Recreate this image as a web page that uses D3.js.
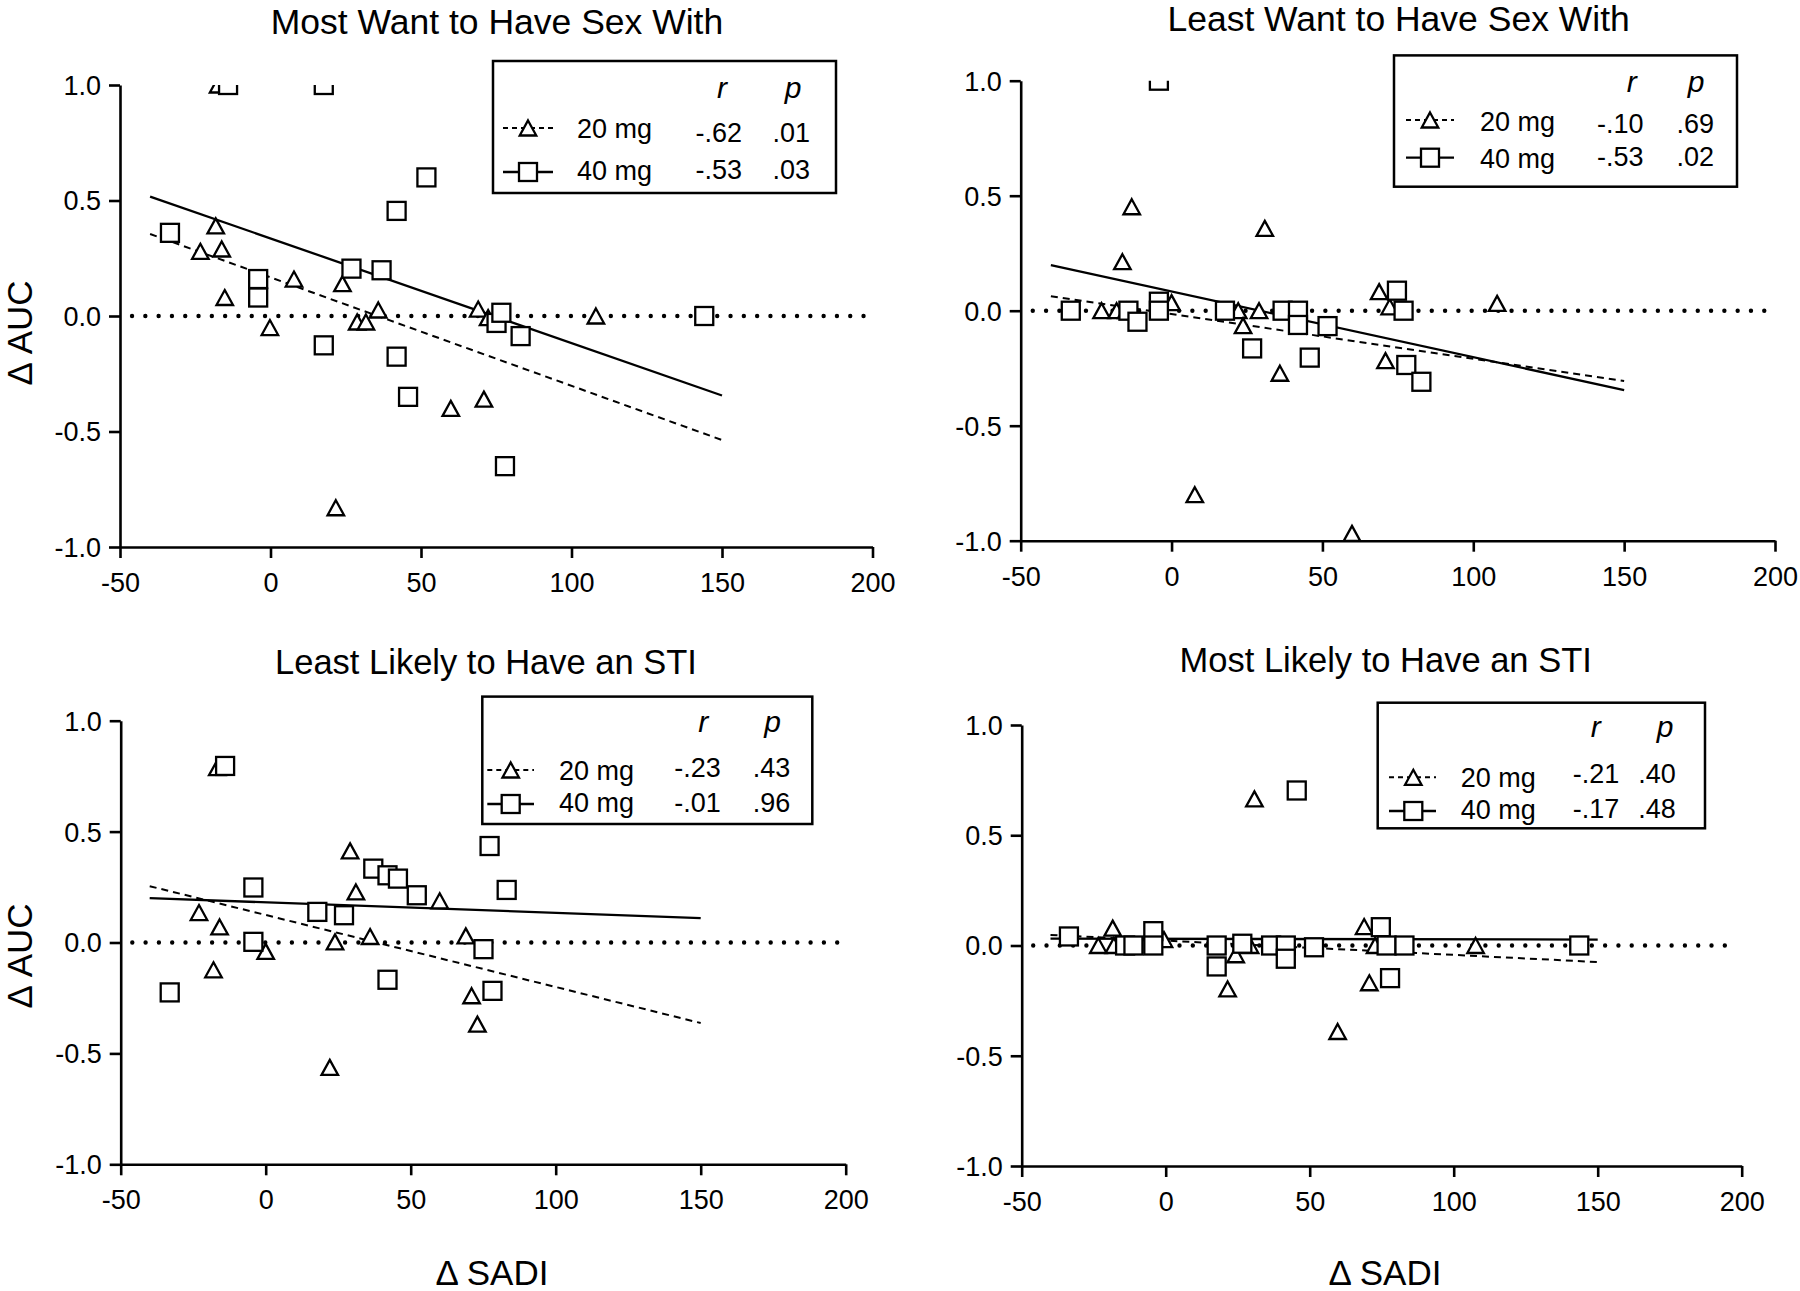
<!DOCTYPE html>
<html><head><meta charset="utf-8">
<script src="https://cdn.jsdelivr.net/npm/d3@7"></script>
<style>
body{margin:0;background:#fff}
svg{display:block;background:#fff}
text{font-family:"Liberation Sans",Arial,Helvetica,sans-serif;fill:#000}
</style>
</head><body>
<svg id="chart" width="1800" height="1291"></svg>
<script>
// ---------------- DATA ----------------
const panelTitles = ["Most Want to Have Sex With","Least Want to Have Sex With","Least Likely to Have an STI","Most Likely to Have an STI"];
const doseLabels = ["20 mg","40 mg"];
const xTicks = [-50,0,50,100,150,200];
const yTicks = [-1,-0.5,0,0.5,1];
const zeroLineRange = [-46,198];
const xAxisLabel = "\u0394 SADI";
const yAxisLabel = "\u0394 AUC";

// Panel 1: Most Want to Have Sex With
const mostSex_x20 = [-23.3,-18.2,-17.4,-16.2,-15.2,-0.2,7.8,21.7,23.9,28.8,31.7,35.8,59.9,69.0,70.9,72.3,108.1];
const mostSex_y20 = [0.28,0.39,1.0,0.29,0.08,-0.05,0.16,-0.83,0.14,-0.026,-0.026,0.026,-0.40,0.03,-0.36,-0.007,0.0];
const mostSex_x40 = [-33.4,-14.1,-4.1,-4.1,17.7,17.7,26.9,36.9,41.9,41.9,45.7,51.8,75.1,76.7,77.9,83.1,144.1];
const mostSex_y40 = [0.36,1.0,0.16,0.08,-0.127,1.0,0.205,0.198,0.455,-0.176,-0.35,0.60,-0.03,0.014,-0.65,-0.087,0.0];
const mostSex_fit20 = [[-40,0.355],[150,-0.537]];
const mostSex_fit40 = [[-40,0.517],[150,-0.344]];
const mostSex_stats = [["-.62",".01"],["-.53",".03"]];

// Panel 2: Least Want to Have Sex With
const leastSex_x20 = [-23.2,-18.2,-16.3,-15.0,-13.2,0,7.7,22.1,23.7,29.0,30.9,35.9,59.8,68.8,70.9,72.3,107.9];
const leastSex_y20 = [0,0,0.213,0,0.452,0.035,-0.80,0,-0.065,0,0.358,-0.272,-0.968,0.083,-0.217,0.017,0.032];
const leastSex_x40 = [-33.4,-14.3,-11.3,-4.2,-4.2,-4.2,17.7,26.7,36.8,41.9,41.9,45.8,51.7,74.7,76.9,77.8,82.8];
const leastSex_y40 = [0,0,-0.048,0.039,0,1.0,0,-0.164,0,0,-0.062,-0.204,-0.067,0.087,0,-0.236,-0.309];
const leastSex_fit20 = [[-40,0.063],[150,-0.306]];
const leastSex_fit40 = [[-40,0.198],[150,-0.345]];
const leastSex_stats = [["-.10",".69"],["-.53",".02"]];

// Panel 3: Least Likely to Have an STI
const leastSti_x20 = [-23.0,-18.0,-16.7,-15.9,0,22.1,23.9,29.1,31.1,36.0,60.0,69.0,71.0,73.0];
const leastSti_y20 = [0.135,-0.123,0.788,0.07,-0.04,-0.563,0.003,0.413,0.228,0.027,0.188,0.03,-0.24,-0.368];
const leastSti_x40 = [-33.1,-14.0,-4.25,-4.25,17.8,27.0,37.1,42.0,42.0,45.6,52.1,75.1,77.2,78.2,83.1];
const leastSti_y40 = [-0.225,0.796,0.248,0.003,0.138,0.123,0.333,0.303,-0.168,0.288,0.213,-0.03,0.435,-0.218,0.237];
const leastSti_fit20 = [[-40,0.254],[150,-0.363]];
const leastSti_fit40 = [[-40,0.20],[150,0.11]];
const leastSti_stats = [["-.23",".43"],["-.01",".96"]];

// Panel 4: Most Likely to Have an STI
const mostSti_x20 = [-23.4,-18.4,-18.0,-0.6,21.5,24.3,29.3,30.8,59.7,68.9,70.7,72.7,107.6];
const mostSti_y20 = [0,0.079,0,0.027,-0.197,-0.042,0,0.665,-0.39,0.086,-0.169,0,0];
const mostSti_x40 = [-33.6,-14.1,-11.2,-4.3,-4.3,17.7,17.7,26.6,36.6,41.7,41.7,45.5,51.5,74.7,76.7,77.9,82.9,143.6];
const mostSti_y40 = [0.041,0,0,0.065,0,0,-0.095,0.008,0,0,-0.06,0.703,-0.008,0.083,0,-0.148,0,0];
const mostSti_fit20 = [[-40,0.048],[150,-0.075]];
const mostSti_fit40 = [[-40,0.031],[150,0.027]];
const mostSti_stats = [["-.21",".40"],["-.17",".48"]];

// ---------------- LAYOUT ----------------
const layouts = [
  {x0:120, x1:872.5, yTop:85, yBot:547, tx:497, ty:34, ts:35.5, yLab:[31.6,333], xLab:null,
   lg:{L:493,T:61,W:343,H:132, rx:229,px:300,hy:37, sx0:10,sx1:60,mx:35, s1y:67,s2y:111, lx:84,l1y:77,l2y:119, n1y:81,n2y:118, rEnd:249,pEnd:317}},
  {x0:1020.7, x1:1775, yTop:80.7, yBot:540.7, tx:1398.6, ty:31, ts:35.5, yLab:null, xLab:null,
   lg:{L:1394,T:55.4,W:343,H:131.3, rx:237.7,px:302,hy:36.3, sx0:12,sx1:60,mx:36, s1y:64.6,s2y:102.3, lx:86,l1y:75.6,l2y:112.6, n1y:77.6,n2y:110.6, rEnd:249.5,pEnd:320}},
  {x0:120.7, x1:845.7, yTop:720.7, yBot:1164.3, tx:486, ty:674, ts:34.5, yLab:[31.8,956], xLab:[492,1285],
   lg:{L:482.3,T:696.6,W:330,H:127.4, rx:221,px:290.4,hy:35, sx0:5,sx1:51.7,mx:28.4, s1y:73.4,s2y:107.4, lx:76.7,l1y:83.4,l2y:115.7, n1y:80.7,n2y:115, rEnd:238.5,pEnd:308}},
  {x0:1021.7, x1:1741.7, yTop:725, yBot:1166, tx:1385.7, ty:672, ts:34.5, yLab:null, xLab:[1385,1285],
   lg:{L:1377.7,T:702.7,W:327.3,H:125.6, rx:218,px:287.3,hy:34, sx0:11.3,sx1:58.3,mx:35.6, s1y:74.6,s2y:108.3, lx:83,l1y:84,l2y:116.6, n1y:80.6,n2y:115.6, rEnd:241.7,pEnd:298}}
];

const panels = [
  {x20:mostSex_x20,y20:mostSex_y20,x40:mostSex_x40,y40:mostSex_y40,fit20:mostSex_fit20,fit40:mostSex_fit40,stats:mostSex_stats},
  {x20:leastSex_x20,y20:leastSex_y20,x40:leastSex_x40,y40:leastSex_y40,fit20:leastSex_fit20,fit40:leastSex_fit40,stats:leastSex_stats},
  {x20:leastSti_x20,y20:leastSti_y20,x40:leastSti_x40,y40:leastSti_y40,fit20:leastSti_fit20,fit40:leastSti_fit40,stats:leastSti_stats},
  {x20:mostSti_x20,y20:mostSti_y20,x40:mostSti_x40,y40:mostSti_y40,fit20:mostSti_fit20,fit40:mostSti_fit40,stats:mostSti_stats}
];

// ---------------- DRAW ----------------
const svg = d3.select("#chart");
const defs = svg.append("defs");
const TRI_W = 16.5, TRI_H = 15, SQ = 18, MSW = 2.3;
const triPath = (cx,cy) => `M${cx},${cy-TRI_H/2}L${cx+TRI_W/2},${cy+TRI_H/2}L${cx-TRI_W/2},${cy+TRI_H/2}Z`;
const DASH = "7,5", DOT = "0,13.3";

function drawTri(sel, cx, cy){
  sel.append("path").attr("d", triPath(cx,cy)).attr("fill","#fff").attr("stroke","#000")
    .attr("stroke-width",MSW).attr("stroke-linejoin","miter");
}
function drawSq(sel, cx, cy){
  sel.append("rect").attr("x",cx-SQ/2).attr("y",cy-SQ/2).attr("width",SQ).attr("height",SQ)
    .attr("fill","#fff").attr("stroke","#000").attr("stroke-width",MSW);
}

panels.forEach((P,i)=>{
  const Lo = layouts[i];
  const x = d3.scaleLinear().domain([-50,200]).range([Lo.x0, Lo.x1]);
  const y = d3.scaleLinear().domain([-1,1]).range([Lo.yBot, Lo.yTop]);
  const g = svg.append("g");

  // title
  g.append("text").attr("x",Lo.tx).attr("y",Lo.ty).attr("text-anchor","middle")
    .style("font-size",Lo.ts+"px").text(panelTitles[i]);

  // clip
  const cid = "clip"+i;
  defs.append("clipPath").attr("id",cid).append("rect")
    .attr("x",Lo.x0-5).attr("y",Lo.yTop).attr("width",Lo.x1-Lo.x0+30).attr("height",Lo.yBot-Lo.yTop+14);

  const plot = g.append("g").attr("clip-path",`url(#${cid})`);

  // zero dotted line
  plot.append("line").attr("x1",x(zeroLineRange[0])).attr("x2",x(zeroLineRange[1]))
    .attr("y1",y(0)).attr("y2",y(0)).attr("stroke","#000").attr("stroke-width",4.4)
    .attr("stroke-linecap","round").attr("stroke-dasharray",DOT);

  // fit lines
  const line = d3.line().x(d=>x(d[0])).y(d=>y(d[1]));
  plot.append("path").attr("d",line(P.fit20)).attr("fill","none").attr("stroke","#000")
    .attr("stroke-width",2).attr("stroke-dasharray",DASH);
  plot.append("path").attr("d",line(P.fit40)).attr("fill","none").attr("stroke","#000")
    .attr("stroke-width",2.3);

  // axes
  const fmtY = d => d.toFixed(1);
  const yAx = g.append("g").attr("transform",`translate(${Lo.x0},0)`)
    .call(d3.axisLeft(y).tickValues(yTicks).tickFormat(fmtY).tickSize(11).tickSizeOuter(0).tickPadding(8));
  const xAx = g.append("g").attr("transform",`translate(0,${Lo.yBot})`)
    .call(d3.axisBottom(x).tickValues(xTicks).tickFormat(d=>String(d)).tickSize(11).tickSizeOuter(0).tickPadding(15));
  [yAx,xAx].forEach(a=>{
    a.selectAll("path.domain").attr("stroke","#000").attr("stroke-width",2.6);
    a.selectAll(".tick line").attr("stroke","#000").attr("stroke-width",2.6);
    a.selectAll(".tick text").attr("fill","#000")
      .style("font-family",'"Liberation Sans",Arial,sans-serif').style("font-size","27px");
  });
  yAx.selectAll(".tick text").attr("dy","0.35em");

  // markers: triangles (20 mg) then squares (40 mg)
  const mg = plot.append("g");
  P.x20.forEach((v,k)=>drawTri(mg, x(v), y(P.y20[k])));
  P.x40.forEach((v,k)=>drawSq(mg, x(v), y(P.y40[k])));

  // axis labels
  if(Lo.yLab){
    g.append("text").attr("transform",`translate(${Lo.yLab[0]},${Lo.yLab[1]}) rotate(-90)`)
      .attr("text-anchor","middle").style("font-size","35px").text(yAxisLabel);
  }
  if(Lo.xLab){
    g.append("text").attr("x",Lo.xLab[0]).attr("y",Lo.xLab[1]).attr("text-anchor","middle")
      .style("font-size","35px").text(xAxisLabel);
  }

  // legend
  const lg = Lo.lg;
  const G = g.append("g").attr("transform",`translate(${lg.L},${lg.T})`);
  G.append("rect").attr("x",0).attr("y",0).attr("width",lg.W).attr("height",lg.H)
    .attr("fill","#fff").attr("stroke","#000").attr("stroke-width",2.5);
  G.append("text").attr("x",lg.rx).attr("y",lg.hy).attr("text-anchor","middle")
    .style("font-size","30px").style("font-style","italic").text("r");
  G.append("text").attr("x",lg.px).attr("y",lg.hy).attr("text-anchor","middle")
    .style("font-size","30px").style("font-style","italic").text("p");
  // row 1 (20 mg)
  G.append("line").attr("x1",lg.sx0).attr("x2",lg.sx1).attr("y1",lg.s1y).attr("y2",lg.s1y)
    .attr("stroke","#000").attr("stroke-width",2).attr("stroke-dasharray","5,4");
  drawTri(G, lg.mx, lg.s1y);
  G.append("text").attr("x",lg.lx).attr("y",lg.l1y).style("font-size","27px").text(doseLabels[0]);
  G.append("text").attr("x",lg.rEnd).attr("y",lg.n1y).attr("text-anchor","end").style("font-size","27px").text(P.stats[0][0]);
  G.append("text").attr("x",lg.pEnd).attr("y",lg.n1y).attr("text-anchor","end").style("font-size","27px").text(P.stats[0][1]);
  // row 2 (40 mg)
  G.append("line").attr("x1",lg.sx0).attr("x2",lg.sx1).attr("y1",lg.s2y).attr("y2",lg.s2y)
    .attr("stroke","#000").attr("stroke-width",2.3);
  drawSq(G, lg.mx, lg.s2y);
  G.append("text").attr("x",lg.lx).attr("y",lg.l2y).style("font-size","27px").text(doseLabels[1]);
  G.append("text").attr("x",lg.rEnd).attr("y",lg.n2y).attr("text-anchor","end").style("font-size","27px").text(P.stats[1][0]);
  G.append("text").attr("x",lg.pEnd).attr("y",lg.n2y).attr("text-anchor","end").style("font-size","27px").text(P.stats[1][1]);
});
</script>
</body></html>
